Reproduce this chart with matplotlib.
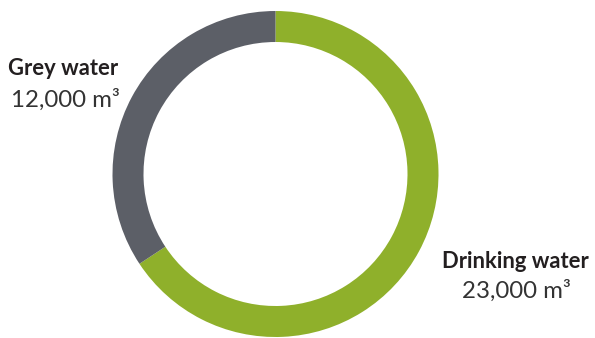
import matplotlib.pyplot as plt

# water use by source
labels = ["Drinking water", "Grey water"]
values = [23000, 12000]
value_labels = ["23,000 m³", "12,000 m³"]
colors = ["#8FB02B", "#5C5F67"]

plt.rcParams['font.family'] = ['Lato', 'DejaVu Sans']

fig = plt.figure(figsize=(5.95, 3.38), dpi=100)
ax = fig.add_axes([0, 0, 1, 1])

# ring, drawn in pixel coordinates
ax.pie(values, colors=colors, startangle=90, counterclock=False,
       center=(275.5, 164), radius=163, frame=True,
       wedgeprops=dict(width=31, edgecolor="none"))
ax.set_aspect("equal")
ax.set_xlim(0, 595)
ax.set_ylim(0, 338)
ax.axis("off")

txt = "#231F20"
# Grey water label, top left
ax.text(63, 263, labels[1], ha="center", va="baseline", fontsize=15.8,
        fontweight="bold", color=txt)
ax.text(65, 231, value_labels[1], ha="center", va="baseline", fontsize=17.3,
        color="#333333")
# Drinking water label, bottom right
ax.text(515, 70, labels[0], ha="center", va="baseline", fontsize=15.8,
        fontweight="bold", color=txt)
ax.text(516.5, 40, value_labels[0], ha="center", va="baseline", fontsize=17.3,
        color="#333333")

fig.savefig("out.png", dpi=100)
